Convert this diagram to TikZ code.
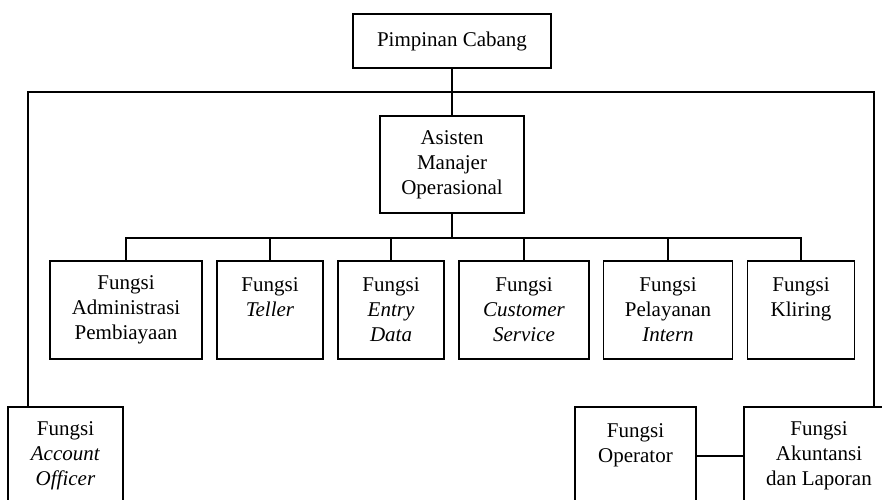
\documentclass[tikz,border=0pt]{standalone}
\usepackage{fontspec}
\setmainfont{Liberation Serif}
\usetikzlibrary{calc}
\tikzset{
  unit/.style={draw=black,line width=.8pt,align=center,inner sep=2pt,
    minimum height=49pt,font=\fontsize{10.5}{12.5}\selectfont},
  link/.style={draw=black,line width=.8pt},
}

\begin{document}
\begin{tikzpicture}[x=.5pt,y=-.5pt]
\clip (0,0) rectangle (882,499);
% top level
\node[unit,minimum width=99pt,minimum height=27pt] (pimpinan) at (452,41) {Pimpinan Cabang};
\node[unit,minimum width=72pt,minimum height=48.5pt] (asisten) at (452,164.5) {Asisten\\Manajer\\Operasional};
% functions under the assistant manager
\node[unit,minimum width=76pt] (admin) at (126,310) {Fungsi\\Administrasi\\Pembiayaan};
\node[unit,minimum width=53pt] (teller) at (270,310) {Fungsi\\\textit{Teller}\\~};
\node[unit,minimum width=53pt] (entry) at (391,310) {Fungsi\\\textit{Entry}\\\textit{Data}};
\node[unit,minimum width=65pt] (custserv) at (524,310) {Fungsi\\\textit{Customer}\\\textit{Service}};
\node[unit,minimum width=64.5pt] (intern) at (668,310) {Fungsi\\Pelayanan\\\textit{Intern}};
\node[unit,minimum width=53.5pt] (kliring) at (801,310) {Fungsi\\Kliring\\~};
% functions under the branch head
\node[unit,minimum width=57.5pt] (officer) at (65.5,456) {Fungsi\\\textit{Account}\\\textit{Officer}};
\node[unit,minimum width=60.5pt] (operator) at (635.5,456) {Fungsi\\Operator\\~};
\node[unit,minimum width=75pt] (akuntansi) at (819,456) {Fungsi\\Akuntansi\\dan Laporan};
% connectors
\coordinate (barL) at (28,92);
\coordinate (barR) at (874,92);
\coordinate (bus) at (452,238);
\draw[link] (pimpinan) -- (asisten);
\draw[link] (barL |- officer.north) -- (barL) -- (barR) -- (barR |- akuntansi.north);
\draw[link] (asisten) -- (bus);
\foreach \n in {admin,teller,entry,custserv,intern,kliring}
  \draw[link] (\n.north) |- (bus);
\draw[link] (operator) -- (akuntansi);
\end{tikzpicture}
\end{document}
